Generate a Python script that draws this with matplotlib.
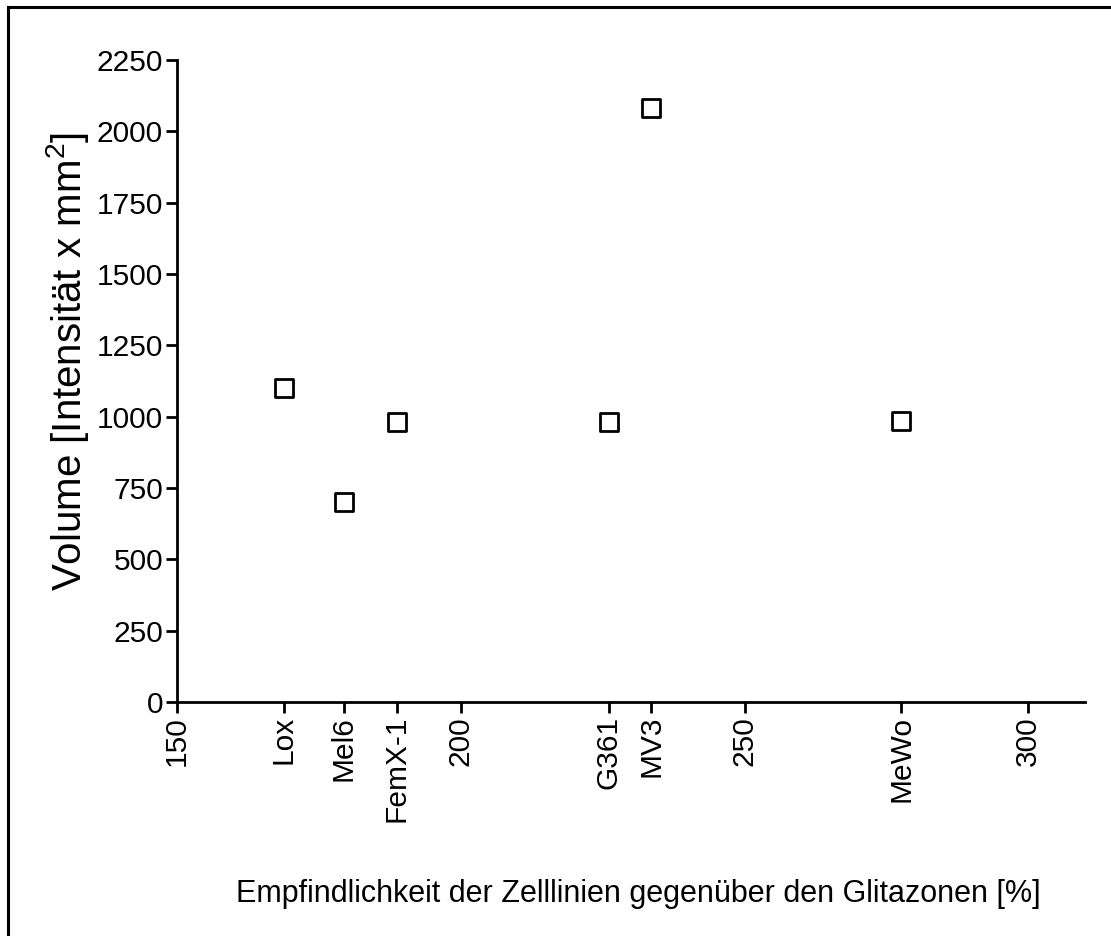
import matplotlib
matplotlib.use("Agg")
import matplotlib.pyplot as plt
from matplotlib.lines import Line2D

plt.rcParams["font.family"] = ["Liberation Sans", "DejaVu Sans"]
plt.rcParams["mathtext.fontset"] = "custom"
plt.rcParams["mathtext.rm"] = "Liberation Sans"
plt.rcParams["mathtext.it"] = "Liberation Sans:italic"

# cell lines: sensitivity to glitazones [%] vs. volume
cell_lines = ["Lox", "Mel6", "FemX-1", "G361", "MV3", "MeWo"]
sensitivity = [168.8, 179.4, 188.7, 226.1, 233.6, 277.6]
volume = [1100, 700, 982, 982, 2083, 985]

x_ticks_numeric = [150, 200, 250, 300]
y_ticks = [0, 250, 500, 750, 1000, 1250, 1500, 1750, 2000, 2250]

W, H = 1111, 936
fig = plt.figure(figsize=(W / 100, H / 100), dpi=100)
ax = fig.add_axes([177 / W, 1 - 702 / H, (1085 - 177) / W, (702 - 60) / H])

ax.scatter(sensitivity, volume, marker="s", s=170, facecolors="white",
           edgecolors="black", linewidths=2.0, zorder=3, clip_on=False)

ax.set_xlim(150, 310)
ax.set_ylim(0, 2250)

ticks = x_ticks_numeric + sensitivity
labels = [str(v) for v in x_ticks_numeric] + cell_lines
ax.set_xticks(ticks)
ax.set_xticklabels(labels, rotation=90, fontsize=21.5)
ax.set_yticks(y_ticks)
ax.set_yticklabels([str(v) for v in y_ticks], fontsize=21.5)

for side in ["top", "right"]:
    ax.spines[side].set_visible(False)
for side in ["left", "bottom"]:
    ax.spines[side].set_linewidth(2.0)
ax.tick_params(axis="both", direction="out", length=8, width=2.0, pad=2)

fig.text(68 / W, 1 - 361 / H, "Volume [Intensität x mm$^2$]", rotation=90,
         ha="center", va="center", fontsize=29)
fig.text(638 / W, 1 - 902 / H, "Empfindlichkeit der Zelllinien gegenüber den Glitazonen [%]",
         ha="center", va="baseline", fontsize=22)

# frame lines along top and left edge
fig.add_artist(Line2D([8 / W, 1.0], [1 - 6.5 / H, 1 - 6.5 / H], color="black", linewidth=2.2))
fig.add_artist(Line2D([8 / W, 8 / W], [0.0, 1 - 6.5 / H], color="black", linewidth=2.2))

fig.savefig("out.png", dpi=100, facecolor="white")
